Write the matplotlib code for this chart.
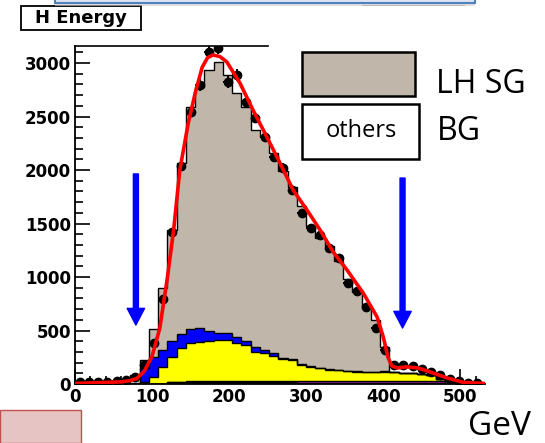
import numpy as np
import matplotlib
matplotlib.use("Agg")
import matplotlib.pyplot as plt
from matplotlib.patches import Rectangle

# 12 GeV bins from 0 to 528 GeV
bin_edges = np.arange(0, 529, 12)

# stacked MC components (events / bin), bottom to top
misc_green = [0, 0, 0, 0, 0, 0, 0, 0, 0, 0, 8, 8, 8, 8, 8, 8, 8, 8, 8, 8, 8, 8,
              8, 8, 8, 8, 8, 8, 8, 8, 8, 8, 8, 8, 8, 8, 8, 8, 8, 8, 0, 0, 0, 0]
misc_teal = [0, 0, 0, 0, 0, 0, 0, 0, 0, 0, 8, 8, 8, 8, 8, 8, 8, 8, 8, 8, 8, 8,
             8, 8, 6, 6, 6, 6, 6, 6, 6, 6, 6, 6, 6, 6, 6, 6, 6, 6, 0, 0, 0, 0]
misc_magenta = [0, 0, 0, 0, 0, 0, 0, 0, 0, 0, 0, 0, 10, 10, 10, 10, 10, 10, 10, 10, 10, 10,
                10, 10, 10, 10, 10, 10, 10, 10, 10, 10, 10, 10, 10, 10, 10, 10, 10, 10, 0, 0, 0, 0]
bg_yellow = [0, 0, 0, 0, 0, 0, 0, 20, 65, 160, 234, 324, 354, 367, 374, 385, 385, 357, 338, 274, 264, 234,
             209, 199, 151, 136, 126, 111, 106, 96, 91, 88, 88, 91, 86, 81, 76, 71, 56, 26, 25, 5, 0, 0]
bg_blue = [0, 0, 0, 0, 0, 0, 0, 130, 185, 160, 150, 130, 130, 130, 100, 69, 64, 57, 36, 45, 30, 30,
           10, 10, 15, 5, 2, 3, 3, 3, 3, 3, 3, 3, 0, 0, 0, 0, 0, 0, 0, 0, 0, 0]
lh_signal = [5, 8, 10, 12, 15, 25, 84, 74, 260, 577, 1040, 1595, 2080, 2257, 2435, 2530, 2413, 2280, 2190, 2029, 1988, 1870,
             1745, 1605, 1470, 1315, 1208, 1152, 1017, 857, 742, 605, 485, 232, 0, 0, 0, 0, 0, 0, 0, 0, 0, 0]

# pseudo data
data_counts = [15, 18, 20, 22, 28, 35, 65, 178, 383, 790, 1420, 2040, 2542, 2795, 3100, 3140, 2822, 2890, 2635, 2486, 2310, 2121,
               2019, 1813, 1598, 1458, 1393, 1271, 1178, 944, 870, 715, 523, 318, 180, 175, 165, 140, 110, 80, 50, 25, 12, 8]

# fit curve
fit_x = [0, 20, 40, 60, 70, 80, 90, 100, 110, 120, 128, 136, 147, 156, 165, 172, 179, 188, 197, 214,
         231, 249, 266, 283, 301, 318, 335, 353, 374, 392, 400, 406, 411, 418, 430, 445, 461, 483, 504, 530]
fit_y = [5, 10, 15, 20, 30, 50, 120, 260, 520, 1000, 1440, 2000, 2440, 2720, 2960, 3050, 3075, 3060, 3010, 2813,
         2560, 2308, 2065, 1813, 1626, 1440, 1234, 1065, 850, 626, 440, 252, 170, 150, 160, 150, 112, 56, 15, 5]

# cut arrows (GeV, from, to)
cut_low = (79, 1963, 551)
cut_high = (425, 1925, 523)

W, H = 545, 443
fig = plt.figure(figsize=(W / 100, H / 100), dpi=100)
ax = fig.add_axes([75 / W, 59 / H, 410 / W, 338 / H])

centers = 0.5 * (bin_edges[1:] + bin_edges[:-1])
stack = [(misc_green, "#1f7f3f"), (misc_teal, "#2aa7a7"), (misc_magenta, "#cc33cc"),
         (bg_yellow, "#ffff00"), (bg_blue, "#0000ff"), (lh_signal, "#c0b6aa")]
bottom = np.zeros(len(centers))
for vals, col in stack:
    top = bottom + np.array(vals)
    ax.stairs(top, bin_edges, baseline=bottom, fill=True, color=col, zorder=2)
    ax.stairs(top, bin_edges, color="black", lw=1.0, zorder=3)
    bottom = top

data = np.array(data_counts)
ax.errorbar(centers, data, yerr=np.sqrt(data), xerr=6, fmt="o", color="black",
            ms=6, elinewidth=1.4, capsize=0, zorder=4)
ax.plot(fit_x, fit_y, color="#ff0000", lw=2.6, zorder=5)

for x, y0, y1 in (cut_low, cut_high):
    ax.annotate("", xy=(x, y1), xytext=(x, y0),
                arrowprops=dict(facecolor="#0000ff", edgecolor="#0000ff", width=3.6,
                                headwidth=12.5, headlength=12, shrink=0), zorder=6)

ymax = 3159
ax.set_xlim(0, 532)
ax.set_ylim(0, ymax)
ax.set_xticks(range(0, 501, 100))
ax.set_xticks(range(0, 532, 20), minor=True)
ax.set_yticks(range(0, 3001, 500))
ax.set_yticks(range(0, 3159, 100), minor=True)
ax.tick_params(which="both", direction="in", top=False, right=False, width=1.2)
ax.tick_params(which="major", length=11, pad=3)
ax.tick_params(which="minor", length=5.5)
for lab in ax.get_xticklabels() + ax.get_yticklabels():
    lab.set_fontfamily("DejaVu Sans")
    lab.set_fontweight("bold")
    lab.set_fontsize(12)
ax.spines["right"].set_visible(False)
ax.spines["top"].set_visible(False)
ax.spines["left"].set_linewidth(1.3)
ax.spines["bottom"].set_linewidth(1.3)
ax.plot([0, 250], [ymax, ymax], color="black", lw=1.2, clip_on=False, zorder=7)

# title box
fig.patches.append(Rectangle((21 / W, 1 - 30 / H), 120 / W, 24 / H, transform=fig.transFigure,
                             facecolor="white", edgecolor="black", lw=1.3))
fig.text(81 / W, 1 - 18 / H, "H Energy", ha="center", va="center",
         fontfamily="DejaVu Sans", fontweight="bold", fontsize=13)

# slide decorations
fig.patches.append(Rectangle((55 / W, 1 - 6 / H), 420 / W, 4 / H, transform=fig.transFigure,
                             facecolor="#cccccc", edgecolor="none", alpha=0.6))
fig.patches.append(Rectangle((55 / W, 1 - 3 / H), 420 / W, 5 / H, transform=fig.transFigure,
                             facecolor="#dbe5f1", edgecolor="#4f81bd", lw=1.5))
fig.patches.append(Rectangle((362 / W, 1 - 6 / H), 103 / W, 1 / H, transform=fig.transFigure,
                             facecolor="#bbbbbb", edgecolor="none"))
fig.patches.append(Rectangle((0, 0), 81 / W, 33 / H, transform=fig.transFigure,
                             facecolor="#e6c4c4", edgecolor="#c0504d", lw=1.0))

# legend boxes
fig.patches.append(Rectangle((302 / W, 1 - 96 / H), 113 / W, 44 / H, transform=fig.transFigure,
                             facecolor="#c0b6aa", edgecolor="black", lw=1.8))
fig.patches.append(Rectangle((302 / W, 1 - 159 / H), 117 / W, 55 / H, transform=fig.transFigure,
                             facecolor="white", edgecolor="black", lw=1.8))
fig.text(361 / W, 1 - 131 / H, "others", ha="center", va="center", fontfamily="Open Sans", fontsize=17)
fig.text(436 / W, 1 - 84 / H, "LH SG", ha="left", va="center", fontfamily="Open Sans", fontsize=23)
fig.text(437 / W, 1 - 131 / H, "BG", ha="left", va="center", fontfamily="Open Sans", fontsize=23)
fig.text(499 / W, 1 - 435 / H, "GeV", ha="center", va="baseline", fontfamily="Open Sans", fontsize=24)

fig.savefig("out.png", dpi=100)
